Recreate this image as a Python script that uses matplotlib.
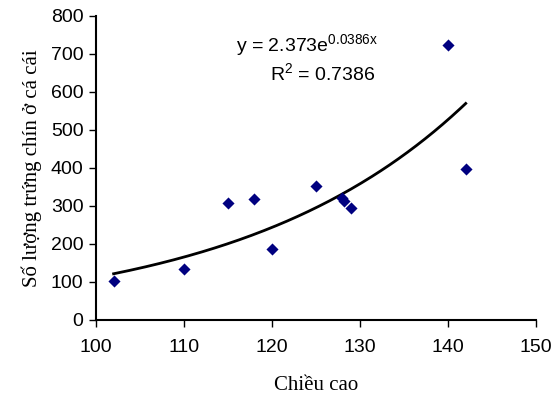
import numpy as np
import matplotlib
matplotlib.use("Agg")
import matplotlib.pyplot as plt

height = [102, 110, 115, 118, 120, 125, 127.9, 128.2, 129, 140, 142]
eggs = [102, 134, 308, 319, 187, 352, 320, 313, 295, 723, 397]
fit_a = 2.373
fit_b = 0.0386
r2 = 0.7386

plt.rcParams["mathtext.fontset"] = "custom"
plt.rcParams["mathtext.rm"] = "Liberation Sans"

fig = plt.figure(figsize=(5.55, 4.0), dpi=100)
ax = fig.add_axes([0.173, 0.2, 0.793, 0.76])

xs = np.linspace(min(height), max(height), 200)
ax.plot(xs, fit_a * np.exp(fit_b * xs), color="black", lw=2)
ax.scatter(height, eggs, marker="D", s=38, color="#000080", zorder=3, linewidths=0)

ax.set_xlim(100, 150)
ax.set_ylim(0, 800)
ax.set_xticks(range(100, 151, 10))
ax.set_yticks(range(0, 801, 100))
for s in ["top", "right"]:
    ax.spines[s].set_visible(False)
for s in ["left", "bottom"]:
    ax.spines[s].set_linewidth(1.5)
ax.tick_params(direction="out", length=5, width=1, labelsize=14)
for t in ax.get_xticklabels() + ax.get_yticklabels():
    t.set_family("Liberation Sans")
ax.tick_params(axis="x", pad=9)
ax.tick_params(axis="y", pad=4)

ax.set_xlabel("Chiều cao", family="Liberation Serif", fontsize=15, labelpad=14)
ax.set_ylabel("Số lượng trứng chín ở cá cái", family="Liberation Serif", fontsize=15, labelpad=6)

ax.text(0.479, 0.885, f"y = {fit_a}e$\\mathregular{{^{{{fit_b}x}}}}$", transform=ax.transAxes,
        family="Liberation Sans", fontsize=14, ha="center")
ax.text(0.515, 0.79, f"R$\\mathregular{{^{{2}}}}$ = {r2}", transform=ax.transAxes,
        family="Liberation Sans", fontsize=14, ha="center")

fig.savefig("out.png", dpi=100)
